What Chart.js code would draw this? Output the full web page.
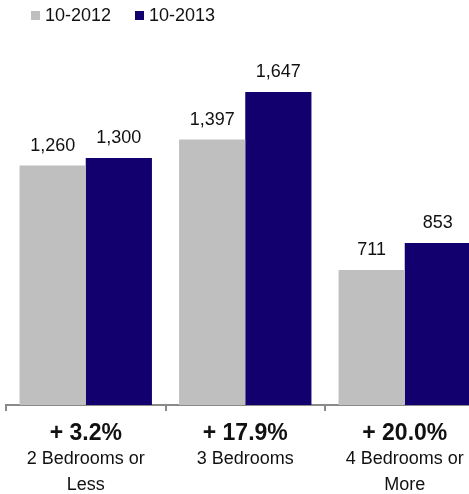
<!DOCTYPE html>
<html>
<head>
<meta charset="utf-8">
<script src="https://cdn.jsdelivr.net/npm/chart.js@4"></script>
<style>
  html, body { margin: 0; padding: 0; background: #fff; overflow: hidden; }
  #wrap { position: relative; width: 490px; height: 494px; }
  #legend {
    position: absolute; left: 31px; top: 6px;
    display: flex; align-items: center;
    font: 18px "Liberation Sans", Arial, Helvetica, sans-serif; color: #111;
    line-height: 18px;
  }
  #legend .item { display: flex; align-items: center; margin-right: 24px; }
  #legend .swatch { width: 9px; height: 9px; margin-right: 5px; }
</style>
</head>
<body>
<div id="wrap">
  <canvas id="c" width="490" height="494"></canvas>
  <div id="legend"></div>
</div>
<script>
// Home sales by bedroom count, October 2012 vs October 2013
const categories = [['2 Bedrooms or', 'Less'], ['3 Bedrooms'], ['4 Bedrooms or', 'More']];
const changeLabels = ['+ 3.2%', '+ 17.9%', '+ 20.0%'];
const seriesNames = ['10-2012', '10-2013'];
const values2012 = [1260, 1397, 711];
const values2013 = [1300, 1647, 853];
const seriesColors = ['#BFBFBF', '#12006E'];

const FONT = '"Liberation Sans", Arial, Helvetica, sans-serif';
const TEXT = '#111';
const AXIS = '#8a8a8a';
const TICK_LEN = 6, TICK_PAD = 10, LINE_H = 25.5;

// Value printed above each bar
const valueLabels = {
  id: 'valueLabels',
  afterDatasetsDraw(chart) {
    const ctx = chart.ctx;
    ctx.save();
    ctx.font = '18px ' + FONT;
    ctx.fillStyle = TEXT;
    ctx.textAlign = 'center';
    ctx.textBaseline = 'alphabetic';
    chart.data.datasets.forEach((ds, di) => {
      chart.getDatasetMeta(di).data.forEach((bar, i) => {
        ctx.fillText(ds.data[i].toLocaleString('en-US'), bar.x, bar.y - 15);
      });
    });
    ctx.restore();
  }
};

// Bold year-over-year change in the first line of each category label
const changeRow = {
  id: 'changeRow',
  afterDraw(chart) {
    const xs = chart.scales.x;
    const ctx = chart.ctx;
    ctx.save();
    ctx.font = 'bold 23px ' + FONT;
    ctx.fillStyle = TEXT;
    ctx.textAlign = 'center';
    ctx.textBaseline = 'middle';
    const y = xs.top + TICK_LEN + TICK_PAD + LINE_H / 2;
    changeLabels.forEach((t, i) => ctx.fillText(t, xs.getPixelForValue(i), y));
    ctx.restore();
  }
};

const chart = new Chart(document.getElementById('c'), {
  type: 'bar',
  data: {
    labels: categories.map(c => c.join(' ')),
    datasets: [
      { label: seriesNames[0], data: values2012, backgroundColor: seriesColors[0] },
      { label: seriesNames[1], data: values2013, backgroundColor: seriesColors[1] }
    ]
  },
  options: {
    responsive: false,
    animation: false,
    layout: { padding: { left: 6, right: 5.5, top: 25, bottom: 0 } },
    datasets: { bar: { categoryPercentage: 0.83, barPercentage: 1.0, borderWidth: 0 } },
    plugins: { legend: { display: false }, tooltip: { enabled: false } },
    scales: {
      y: { display: false, min: 0, max: 2000 },
      x: {
        offset: true,
        grid: { offset: true, drawOnChartArea: false, drawTicks: true, tickLength: TICK_LEN, color: AXIS, lineWidth: 2 },
        border: { display: true, color: AXIS, width: 2 },
        ticks: {
          padding: TICK_PAD,
          color: TEXT,
          maxRotation: 0, minRotation: 0, autoSkip: false,
          font: { family: FONT, size: 18, lineHeight: LINE_H / 18 },
          callback: (v, i) => [''].concat(categories[i])
        },
        afterFit(scale) { scale.height = 89; }
      }
    }
  },
  plugins: [valueLabels, changeRow]
});

// HTML legend built from the chart's datasets
const legend = document.getElementById('legend');
chart.data.datasets.forEach(ds => {
  const item = document.createElement('span');
  item.className = 'item';
  const sw = document.createElement('span');
  sw.className = 'swatch';
  sw.style.background = ds.backgroundColor;
  item.appendChild(sw);
  item.appendChild(document.createTextNode(ds.label));
  legend.appendChild(item);
});
</script>
</body>
</html>
